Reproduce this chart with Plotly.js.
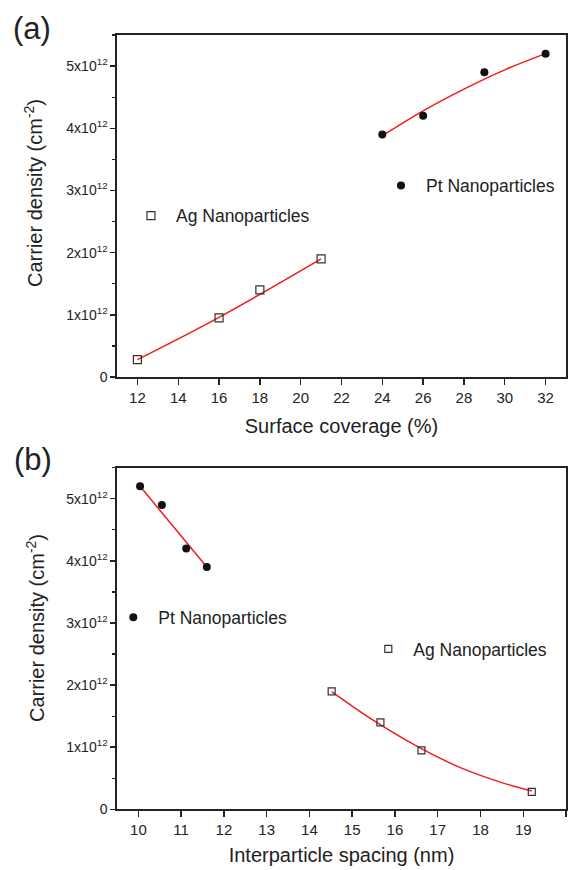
<!DOCTYPE html>
<html>
<head>
<meta charset="utf-8">
<script src="https://cdn.plot.ly/plotly-3.0.1.min.js"></script>
<style>html,body{margin:0;padding:0;background:#fff;}#chart{width:573px;height:870px;}</style>
</head>
<body>
<div id="chart"></div>
<script>
// ---- Panel (a): carrier density vs surface coverage ----
const agCoverage = [12, 16, 18, 21];
const agDensityA = [0.28e12, 0.95e12, 1.40e12, 1.90e12];
const ptCoverage = [24, 26, 29, 32];
const ptDensityA = [3.90e12, 4.20e12, 4.90e12, 5.20e12];
const agFitCoverage = [12, 16, 21];
const agFitDensityA = [0.28e12, 0.96e12, 1.90e12];
const ptFitCoverage = [24, 26, 28, 30, 32];
const ptFitDensityA = [3.88e12, 4.28e12, 4.63e12, 4.94e12, 5.20e12];

// ---- Panel (b): carrier density vs interparticle spacing ----
const ptSpacing = [10.04, 10.55, 11.12, 11.60];
const ptDensityB = [5.20e12, 4.90e12, 4.20e12, 3.90e12];
const agSpacing = [14.52, 15.66, 16.62, 19.20];
const agDensityB = [1.90e12, 1.40e12, 0.95e12, 0.28e12];
const ptFitSpacing = [10.04, 11.60];
const ptFitDensityB = [5.20e12, 3.90e12];
const agFitSpacing = [14.52, 15.5, 16.5, 17.5, 18.5, 19.2];
const agFitDensityB = [1.895e12, 1.43e12, 1.02e12, 0.68e12, 0.43e12, 0.295e12];

// ---- Tick labels ----
const densityTickVals = [0, 1e12, 2e12, 3e12, 4e12, 5e12];
const densityTickText = ['0', '1x10<sup>12</sup>', '2x10<sup>12</sup>', '3x10<sup>12</sup>', '4x10<sup>12</sup>', '5x10<sup>12</sup>'];

const labels = {
  ag: 'Ag Nanoparticles',
  pt: 'Pt Nanoparticles',
  xA: 'Surface coverage (%)',
  xB: 'Interparticle spacing (nm)',
  y: 'Carrier density (cm<sup>-2</sup>)',
  panelA: '(a)',
  panelB: '(b)'
};

const W = 573, H = 870;
const FONT = 'Liberation Sans, Arial, sans-serif';
const px = v => v / W;
const py = v => 1 - v / H;

const fitLine = {color: '#ee1c1c', width: 1.5, shape: 'spline', smoothing: 1};
const ptMarker = {symbol: 'circle', size: 8, color: '#111'};
const agMarker = {symbol: 'square-open', size: 8, color: '#333', line: {width: 1.2, color: '#333'}};

const traces = [
  {x: agFitCoverage, y: agFitDensityA, mode: 'lines', line: fitLine, showlegend: false, xaxis: 'x', yaxis: 'y', hoverinfo: 'skip'},
  {x: ptFitCoverage, y: ptFitDensityA, mode: 'lines', line: fitLine, showlegend: false, xaxis: 'x', yaxis: 'y', hoverinfo: 'skip'},
  {x: agCoverage, y: agDensityA, mode: 'markers', marker: agMarker, name: labels.ag, legend: 'legend', xaxis: 'x', yaxis: 'y'},
  {x: ptCoverage, y: ptDensityA, mode: 'markers', marker: ptMarker, name: labels.pt, legend: 'legend2', xaxis: 'x', yaxis: 'y'},
  {x: ptFitSpacing, y: ptFitDensityB, mode: 'lines', line: fitLine, showlegend: false, xaxis: 'x2', yaxis: 'y2', hoverinfo: 'skip'},
  {x: agFitSpacing, y: agFitDensityB, mode: 'lines', line: fitLine, showlegend: false, xaxis: 'x2', yaxis: 'y2', hoverinfo: 'skip'},
  {x: ptSpacing, y: ptDensityB, mode: 'markers', marker: ptMarker, name: labels.pt, legend: 'legend3', xaxis: 'x2', yaxis: 'y2'},
  {x: agSpacing, y: agDensityB, mode: 'markers', marker: Object.assign({}, agMarker, {size: 7}), name: labels.ag, legend: 'legend4', xaxis: 'x2', yaxis: 'y2'}
];

const axisCommon = {
  showline: true, linecolor: '#222', linewidth: 1.6, mirror: true,
  ticks: 'outside', tickcolor: '#222', tickwidth: 1.4,
  showgrid: false, zeroline: false,
  tickfont: {family: FONT, size: 15, color: '#222'}
};
const yCommon = Object.assign({}, axisCommon, {
  range: [0, 5.5e12], tickmode: 'array', tickvals: densityTickVals, ticktext: densityTickText,
  ticklen: 5, tickfont: {family: FONT, size: 14, color: '#222'},
  minor: {tickmode: 'linear', tick0: 0, dtick: 0.5e12, ticks: 'outside', ticklen: 3, tickcolor: '#222', tickwidth: 1.2}
});
const legendCommon = {bgcolor: 'rgba(0,0,0,0)', borderwidth: 0, itemwidth: 40, font: {family: FONT, size: 17.5, color: '#222'}, xanchor: 'left', yanchor: 'middle', itemclick: false};

const layout = {
  width: W, height: H,
  margin: {l: 0, r: 0, t: 0, b: 0},
  paper_bgcolor: '#fff', plot_bgcolor: '#fff',
  font: {family: FONT, color: '#222'},
  xaxis: Object.assign({}, axisCommon, {
    domain: [px(117), px(566)], anchor: 'y', range: [11, 33], tickmode: 'linear', tick0: 12, dtick: 2, ticklen: 6,
    title: {text: labels.xA, font: {family: FONT, size: 20, color: '#222'}, standoff: 14}
  }),
  yaxis: Object.assign({}, yCommon, {domain: [py(377), py(35)], anchor: 'x'}),
  xaxis2: Object.assign({}, axisCommon, {
    domain: [px(117), px(566)], anchor: 'y2', range: [9.5, 20], tickmode: 'linear', tick0: 10, dtick: 1, ticklen: 6,
    title: {text: labels.xB, font: {family: FONT, size: 20, color: '#222'}, standoff: 11}
  }),
  yaxis2: Object.assign({}, yCommon, {domain: [py(809.3), py(467.7)], anchor: 'x2'}),
  legend: Object.assign({}, legendCommon, {x: px(151 - 25), y: py(215.7)}),
  legend2: Object.assign({}, legendCommon, {x: px(401 - 25), y: py(185.7)}),
  legend3: Object.assign({}, legendCommon, {x: px(133.3 - 25), y: py(617.3)}),
  legend4: Object.assign({}, legendCommon, {x: px(388.3 - 25), y: py(649)}),
  annotations: [
    {text: labels.panelA, xref: 'paper', yref: 'paper', x: px(32), y: py(29), xanchor: 'center', yanchor: 'middle', showarrow: false, font: {family: FONT, size: 31, color: '#222'}},
    {text: labels.panelB, xref: 'paper', yref: 'paper', x: px(33), y: py(459), xanchor: 'center', yanchor: 'middle', showarrow: false, font: {family: FONT, size: 31, color: '#222'}},
    {text: labels.y, xref: 'paper', yref: 'paper', x: px(34), y: py(193), xanchor: 'center', yanchor: 'middle', textangle: -90, showarrow: false, font: {family: FONT, size: 20, color: '#222'}},
    {text: labels.y, xref: 'paper', yref: 'paper', x: px(35), y: py(628), xanchor: 'center', yanchor: 'middle', textangle: -90, showarrow: false, font: {family: FONT, size: 20, color: '#222'}}
  ]
};

Plotly.newPlot('chart', traces, layout, {staticPlot: true, displayModeBar: false});
</script>
</body>
</html>
